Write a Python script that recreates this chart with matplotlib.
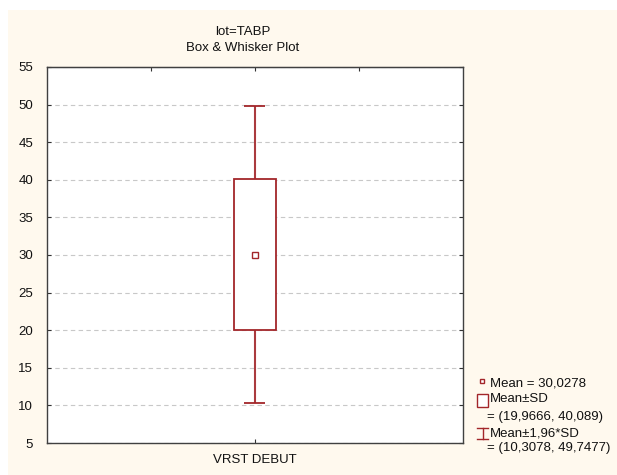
import matplotlib
matplotlib.use("Agg")
import matplotlib.pyplot as plt
from matplotlib.patches import Rectangle
from matplotlib.lines import Line2D

plt.rcParams['font.family'] = ['Liberation Sans', 'DejaVu Sans']

# data
category = ["VRST DEBUT"]
mean_val = [30.0278]
sd_low = [19.9666]
sd_high = [40.089]
ci_low = [10.3078]
ci_high = [49.7477]
yticks = [5, 10, 15, 20, 25, 30, 35, 40, 45, 50, 55]
title_lines = ["lot=TABP", "Box & Whisker Plot"]
legend_texts = ["Mean = 30,0278", "Mean±SD", "= (19,9666, 40,089)",
                "Mean±1,96*SD", "= (10,3078, 49,7477)"]

W, H = 617, 475
FS = 9.5
fig = plt.figure(figsize=(W / 100, H / 100), dpi=100, facecolor='white')
cream = '#FFF9EE'
fig.patches.append(Rectangle((8 / W, 0), 1 - 8 / W, 1 - 10 / H,
                             transform=fig.transFigure, facecolor=cream,
                             edgecolor='none', zorder=-10))

ax = fig.add_axes([47 / W, 1 - 443 / H, (463 - 47) / W, (443 - 67) / H])
ax.set_facecolor('white')
red = '#A3262A'

xpos = list(range(len(category)))
box_w = 42 / 416
cap_w = 21 / 416
for i, x in enumerate(xpos):
    ax.vlines(x, ci_low[i], sd_low[i], color='#AA3A3E', lw=1.5, zorder=3)
    ax.vlines(x, sd_high[i], ci_high[i], color='#AA3A3E', lw=1.5, zorder=3)
    ax.hlines([ci_low[i], ci_high[i]], x - cap_w / 2, x + cap_w / 2, color=red, lw=1.3, zorder=3)
    ax.add_patch(Rectangle((x - box_w / 2, sd_low[i]), box_w, sd_high[i] - sd_low[i],
                           facecolor='white', edgecolor=red, lw=1.3, zorder=3))
    ax.plot([x], [mean_val[i]], marker='s', ms=4, mfc='white', mec=red, mew=1, zorder=4)

ax.set_xlim(-0.5, 0.5)
ax.set_ylim(5, 55)
ax.set_yticks(yticks)
ax.set_xticks(xpos)
ax.set_xticklabels(category)
ax.yaxis.grid(True, linestyle=(0, (4, 3)), color='#C8C8C8', lw=0.8)
ax.set_axisbelow(True)
ax.tick_params(axis='both', direction='in', length=3, color='#333333',
               labelsize=FS, labelcolor='#111111')
ax.tick_params(axis='y', right=True, pad=10)
ax.tick_params(axis='x', pad=8)
for s in ax.spines.values():
    s.set_color('#404040')
    s.set_linewidth(1.0)

# top ticks at quarter positions
sec = ax.secondary_xaxis('top')
sec.set_xticks([-0.25, 0, 0.25])
sec.set_xticklabels([])
sec.tick_params(direction='in', length=3, color='#333333')
sec.spines['top'].set_color('#404040')

# titles
fig.text(243 / W, 1 - 32 / H, title_lines[0], ha='center', va='center', fontsize=FS, color='#111111')
fig.text(243 / W, 1 - 48 / H, title_lines[1], ha='center', va='center', fontsize=FS, color='#111111')

# legend (drawn manually)
def fx(px):
    return px / W

def fy(py):
    return 1 - py / H

text_x = [490, 490, 487, 490, 487]
text_y = [383, 399, 417, 433, 448]
for t, x, y in zip(legend_texts, text_x, text_y):
    fig.text(fx(x), fy(y), t, ha='left', va='center', fontsize=FS, color='#111111')

# mean marker
fig.patches.append(Rectangle((fx(480), fy(383)), 4 / W, 4 / H, transform=fig.transFigure,
                             facecolor='white', edgecolor=red, lw=1))
# box marker
fig.patches.append(Rectangle((fx(477), fy(407)), 11 / W, 13 / H, transform=fig.transFigure,
                             facecolor='white', edgecolor=red, lw=1))
# whisker marker
fig.lines.append(Line2D([fx(482.5), fx(482.5)], [fy(428), fy(439)], transform=fig.transFigure, color=red, lw=1))
fig.lines.append(Line2D([fx(477), fx(488)], [fy(428), fy(428)], transform=fig.transFigure, color=red, lw=1))
fig.lines.append(Line2D([fx(477), fx(488)], [fy(439), fy(439)], transform=fig.transFigure, color=red, lw=1))

fig.savefig('out.png', dpi=100, facecolor=fig.get_facecolor())
